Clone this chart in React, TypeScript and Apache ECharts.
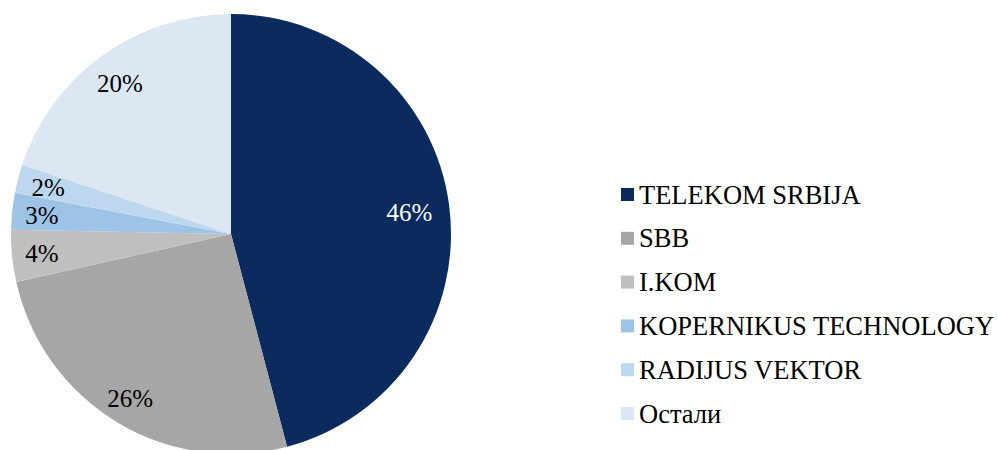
import React, { useEffect, useRef } from "react";
import * as echarts from "echarts";

const categories = [
  "TELEKOM SRBIJA",
  "SBB",
  "I.KOM",
  "KOPERNIKUS TECHNOLOGY",
  "RADIJUS VEKTOR",
  "Остали",
];
const shares = [45.9, 25.6, 3.8, 2.7, 2.1, 19.9];
const colors = ["#0b2b5e", "#a6a6a6", "#bfbfbf", "#9dc3e6", "#bdd7ee", "#dde7f3"];
const labelColors = ["#ffffff", "#000000", "#000000", "#000000", "#000000", "#000000"];
const labelOffsets: [number, number][] = [
  [-8, 3],
  [-3, 4],
  [-2, 1],
  [-2, 1],
  [-1, 1],
  [-1, 2],
];

const FONT = "Liberation Serif";

export default function App() {
  const ref = useRef<HTMLDivElement>(null);
  useEffect(() => {
    if (!ref.current) return;
    const chart = echarts.init(ref.current, null, { renderer: "svg" });
    const center = [231, 234];
    chart.setOption({
      animation: false,
      backgroundColor: "#ffffff",
      textStyle: { fontFamily: FONT },
      legend: {
        orient: "vertical",
        left: 621,
        top: 181,
        padding: 0,
        icon: "rect",
        itemWidth: 13,
        itemHeight: 13,
        itemGap: 16.8,
        selectedMode: false,
        data: categories.map((name, i) => ({ name, itemStyle: { color: colors[i] } })),
        textStyle: {
          fontFamily: FONT,
          fontSize: 26.5,
          lineHeight: 26,
          color: "#000000",
        },
        itemStyle: { borderWidth: 0 },
      },
      series: [
        {
          type: "pie",
          center,
          radius: [0, 220],
          startAngle: 90,
          clockwise: true,
          silent: true,
          label: { show: false },
          labelLine: { show: false },
          itemStyle: { borderWidth: 0 },
          emphasis: { disabled: true },
          data: categories.map((name, i) => ({
            name,
            value: shares[i],
            itemStyle: { color: colors[i] },
          })),
        },
        {
          type: "pie",
          center,
          radius: [150, 220],
          startAngle: 90,
          clockwise: true,
          silent: true,
          legendHoverLink: false,
          labelLine: { show: false },
          emphasis: { disabled: true },
          itemStyle: { color: "rgba(0,0,0,0)", borderWidth: 0 },
          data: categories.map((name, i) => ({
            name,
            value: shares[i],
            itemStyle: { color: "rgba(0,0,0,0)" },
            label: {
              show: true,
              position: "inside",
              formatter: () => `${Math.round(shares[i])}%`,
              color: labelColors[i],
              fontFamily: FONT,
              fontSize: 25,
              offset: labelOffsets[i],
            },
          })),
        },
      ],
    });
    return () => chart.dispose();
  }, []);
  return (
    <div
      ref={ref}
      style={{ position: "fixed", left: 0, top: 0, width: 997, height: 450 }}
    />
  );
}
